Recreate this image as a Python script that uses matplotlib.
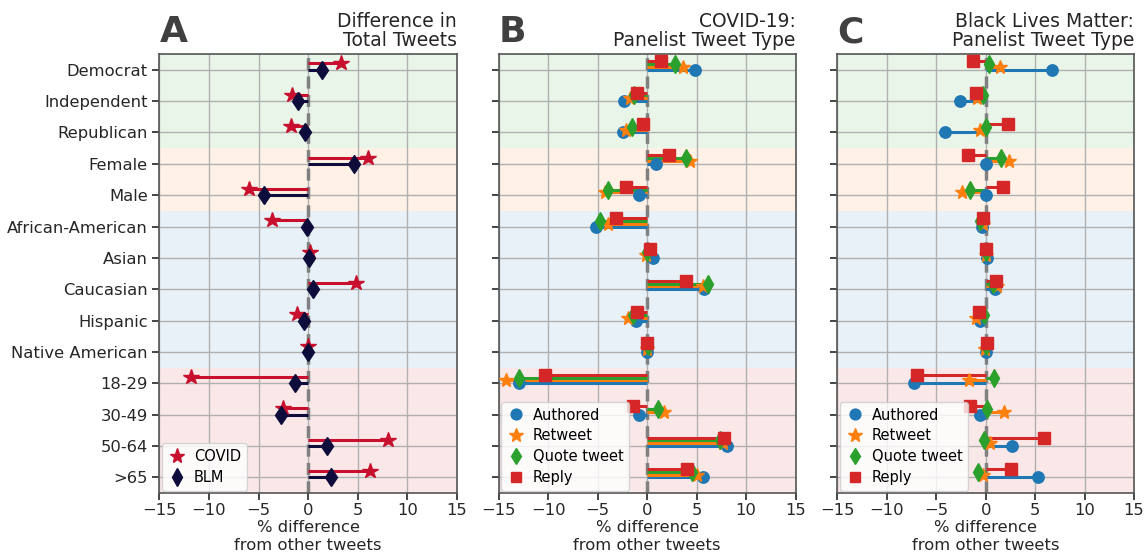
import numpy as np
import matplotlib
matplotlib.use("Agg")
import matplotlib.pyplot as plt

# Row categories (top to bottom)
categories = ["Democrat", "Independent", "Republican", "Female", "Male",
              "African-American", "Asian", "Caucasian", "Hispanic",
              "Native American", "18-29", "30-49", "50-64", ">65"]

# Panel A: difference in total tweets
covid_total = [3.3, -1.6, -1.7, 6.0, -6.0, -3.7, 0.2, 4.8, -1.1, 0.0,
               -11.8, -2.5, 8.0, 6.2]
blm_total = [1.35, -1.0, -0.3, 4.6, -4.5, -0.1, 0.05, 0.5, -0.4, 0.02,
             -1.35, -2.7, 1.9, 2.25]

# Panel B: COVID-19 tweet types
covid_authored = [4.8, -2.3, -2.45, 0.85, -0.8, -5.2, 0.6, 5.75, -1.1, -0.05,
                  -12.9, -0.8, 8.1, 5.6]
covid_retweet = [3.6, -1.7, -2.1, 4.35, -4.25, -4.0, -0.1, 5.65, -1.95, 0.0,
                 -14.2, 1.7, 7.7, 5.0]
covid_quote = [2.8, -1.3, -1.5, 3.9, -3.95, -4.75, 0.0, 6.15, -1.45, 0.05,
               -12.9, 1.1, 7.35, 4.5]
covid_reply = [1.45, -1.0, -0.4, 2.2, -2.15, -3.15, 0.3, 3.95, -1.05, 0.0,
               -10.3, -1.45, 7.8, 4.0]

# Panel C: Black Lives Matter tweet types
blm_authored = [6.75, -2.6, -4.15, 0.05, 0.0, -0.4, 0.1, 0.95, -0.55, 0.0,
                -7.25, -0.6, 2.65, 5.3]
blm_retweet = [1.4, -0.85, -0.6, 2.35, -2.35, -0.25, 0.05, 1.1, -0.95, -0.05,
               -1.7, 1.9, 0.4, -0.25]
blm_quote = [0.3, -0.25, 0.05, 1.55, -1.6, -0.55, 0.0, 0.7, -0.2, 0.0,
             0.8, 0.1, -0.15, -0.75]
blm_reply = [-1.25, -1.0, 2.25, -1.75, 1.75, -0.3, 0.0, 1.0, -0.65, 0.1,
             -6.95, -1.6, 5.9, 2.6]

# Category groups shaded in the background: (first row, last row, colour)
groups = [(0, 2, "tab:green"), (3, 4, "tab:orange"),
          (5, 9, "tab:blue"), (10, 13, "tab:red")]

xticks = [-15, -10, -5, 0, 5, 10, 15]
text_color = "#262626"

plt.rcParams.update({
    "font.family": "DejaVu Sans",
    "font.size": 12,
    "axes.edgecolor": "#555555",
    "axes.linewidth": 1.2,
    "xtick.color": text_color,
    "ytick.color": text_color,
    "xtick.labelcolor": text_color,
    "ytick.labelcolor": text_color,
    "xtick.major.size": 5,
    "ytick.major.size": 5,
    "xtick.major.width": 1.2,
    "ytick.major.width": 1.2,
    "xtick.major.pad": 2.5,
})

fig = plt.figure(figsize=(11.48, 5.59), dpi=100)
bottom, height = 0.118, 0.7853
axA = fig.add_axes([0.1389, bottom, 0.2592, height])
axB = fig.add_axes([0.4343, bottom, 0.2588, height])
axC = fig.add_axes([0.7294, bottom, 0.2584, height])

rows = np.arange(len(categories))


def setup(ax, show_labels):
    for lo, hi, col in groups:
        ax.axhspan(lo - 0.5, hi + 0.5, color=col, alpha=0.1, lw=0, zorder=0)
    ax.set_xlim(-15, 15)
    ax.set_ylim(len(categories) - 0.5, -0.5)
    ax.set_xticks(xticks)
    ax.set_yticks(rows)
    if show_labels:
        ax.set_yticklabels(categories, fontsize=11.8)
    else:
        ax.set_yticklabels([])
    ax.tick_params(axis="x", labelsize=11.8)
    ax.grid(True, color="#b0b0b0", lw=1.0, zorder=1)
    ax.set_axisbelow(True)
    ax.axvline(0, color="#808080", lw=2.5, ls=(0, (3.5, 1.8)), zorder=2)
    ax.set_xlabel("% difference\nfrom other tweets", fontsize=11.8,
                  color=text_color, linespacing=1.25, labelpad=1)


def lollipop(ax, values, offset, color, marker, ms, label, lw=2.2):
    y = rows + offset
    ax.hlines(y, 0, values, color=color, lw=lw, zorder=3)
    ax.plot(values, y, ls="none", marker=marker, color=color, ms=ms,
            label=label, zorder=4)


legend_kw = dict(loc="lower left", fontsize=10.5, framealpha=0.8,
                 handletextpad=0.5, borderaxespad=0.15, handlelength=1.3,
                 labelspacing=0.4, markerscale=0.95)

# Panel A
setup(axA, True)
lollipop(axA, covid_total, -0.2, "#c8102e", "*", 11.5, "COVID")
lollipop(axA, blm_total, 0.0, "#0d0c3a", "d", 9.5, "BLM")
axA.legend(**legend_kw)

# Panels B and C
type_styles = [("Authored", "tab:blue", "o", 8.2),
               ("Retweet", "tab:orange", "*", 10.5),
               ("Quote tweet", "tab:green", "d", 9),
               ("Reply", "tab:red", "s", 8.2)]
offsets = [0.0, -0.09, -0.18, -0.27]

for ax, series in [(axB, [covid_authored, covid_retweet, covid_quote, covid_reply]),
                   (axC, [blm_authored, blm_retweet, blm_quote, blm_reply])]:
    setup(ax, False)
    for vals, off, (lab, col, mk, ms) in zip(series, offsets, type_styles):
        lollipop(ax, vals, off, col, mk, ms, lab, lw=2.2)
    ax.legend(**legend_kw)

# Panel titles and letters
titles = [(axA, "A", "Difference in\nTotal Tweets"),
          (axB, "B", "COVID-19:\nPanelist Tweet Type"),
          (axC, "C", "Black Lives Matter:\nPanelist Tweet Type")]
for ax, letter, title in titles:
    ax.set_title(title, loc="right", fontsize=13.5, color=text_color,
                 linespacing=1.0, pad=6)
    ax.text(0.0, 1.027, letter, transform=ax.transAxes, fontsize=26,
            fontweight="bold", color="#404040", ha="left", va="baseline")

fig.savefig("out.png", dpi=100)
